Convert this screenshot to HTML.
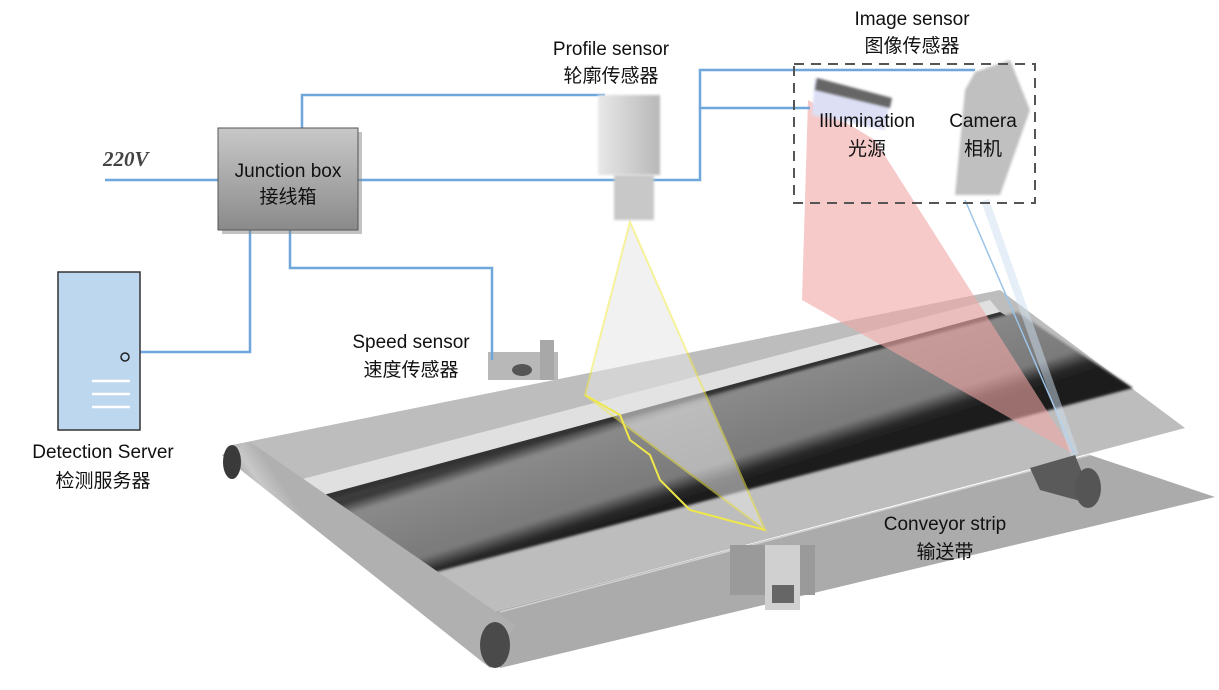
<!DOCTYPE html>
<html><head><meta charset="utf-8"><style>
body{margin:0;background:#fff;}
svg{display:block;}
text{font-family:"Liberation Sans","Noto Sans CJK SC",sans-serif;font-size:19px;fill:#111;}
</style></head><body>
<svg width="1219" height="690" viewBox="0 0 1219 690" xmlns="http://www.w3.org/2000/svg">
<defs>
<linearGradient id="jb" x1="0" y1="0" x2="0" y2="1"><stop offset="0" stop-color="#c8c8c8"/><stop offset="1" stop-color="#8a8a8a"/></linearGradient>
<linearGradient id="sen" x1="0" y1="0" x2="1" y2="0"><stop offset="0" stop-color="#e8e8e8"/><stop offset="1" stop-color="#b8b8b8"/></linearGradient>
<linearGradient id="mat" gradientUnits="userSpaceOnUse" x1="640" y1="410" x2="670" y2="505"><stop offset="0" stop-color="#3a3a3a"/><stop offset="0.12" stop-color="#8a8a8a"/><stop offset="0.75" stop-color="#7a7a7a"/><stop offset="0.9" stop-color="#2a2a2a"/><stop offset="1" stop-color="#1c1c1c"/></linearGradient>
<linearGradient id="bar" gradientUnits="userSpaceOnUse" x1="230" y1="470" x2="260" y2="450"><stop offset="0" stop-color="#a0a0a0"/><stop offset="0.5" stop-color="#c8c8c8"/><stop offset="1" stop-color="#b0b0b0"/></linearGradient>
<filter id="bl"><feGaussianBlur stdDeviation="1.2"/></filter>
</defs>

<polygon points="493,612 1090,455 1215,497 500,668" fill="#ababab"/>
<line x1="500" y1="612" x2="1090" y2="455" stroke="#d0d0d0" stroke-width="1.5"/>
<polygon points="232,445 1000,290 1185,428 493,612" fill="#bdbdbd"/>
<polygon points="287,483 990,300 1000,312 305,500" fill="#e0e0e0"/>
<polygon points="305,500 1000,312 1010,318 310,506" fill="#333"/>
<polygon points="310,504 1017,312 1133,388 417,577" fill="url(#mat)" filter="url(#bl)"/>
<polygon points="222,455 250,442 515,625 490,668" fill="url(#bar)"/>
<ellipse cx="232" cy="462" rx="9" ry="17" fill="#3a3a3a"/>
<ellipse cx="495" cy="645" rx="15" ry="23" fill="#4a4a4a"/>
<polygon points="1030,468 1075,455 1095,505 1040,490" fill="#5a5a5a"/>
<ellipse cx="1088" cy="488" rx="13" ry="20" fill="#555"/>
<rect x="730" y="545" width="85" height="50" fill="#9a9a9a"/>
<rect x="765" y="545" width="35" height="65" fill="#d0d0d0"/>
<rect x="772" y="585" width="22" height="18" fill="#666"/>
<rect x="488" y="352" width="70" height="28" fill="#b8b8b8"/>
<rect x="540" y="340" width="14" height="40" fill="#a8a8a8"/>
<ellipse cx="522" cy="370" rx="10" ry="6" fill="#555"/>

<polygon points="808,100 875,140 1075,455 802,300" fill="#f2a6a6" opacity="0.6"/>
<line x1="965" y1="200" x2="1075" y2="455" stroke="#9cc4e8" stroke-width="1.5"/>
<line x1="985" y1="200" x2="1075" y2="455" stroke="#cfe0f0" stroke-width="8" opacity="0.5"/>

<polygon points="630,222 585,395 765,530" fill="#e6e6e6" opacity="0.55" stroke="#f0e84a" stroke-width="2"/>
<polyline points="585,395 620,415 630,440 650,455 660,480 690,510 765,530" fill="none" stroke="#f0e84a" stroke-width="2"/>

<g stroke="#6fa6dc" stroke-width="2.5" fill="none">
<polyline points="105,180 218,180"/>
<polyline points="302,128 302,95 605,95"/>
<polyline points="358,180 700,180 700,70 975,70"/>
<polyline points="700,108 810,108"/>
<polyline points="250,230 250,352 140,352"/>
<polyline points="290,230 290,268 492,268 492,360"/>
</g>

<rect x="222" y="132" width="140" height="102" fill="#888" opacity="0.5"/>
<rect x="218" y="128" width="140" height="102" fill="url(#jb)" stroke="#555"/>
<text x="288" y="177" text-anchor="middle">Junction box</text>
<text x="288" y="203" text-anchor="middle">接线箱</text>
<text x="103" y="166" style="font-family:'Liberation Serif',serif;font-style:italic;font-weight:bold;font-size:21px;fill:#444">220V</text>

<rect x="58" y="272" width="82" height="158" fill="#bdd7ee" stroke="#333" stroke-width="1.5"/>
<circle cx="125" cy="357" r="4" fill="none" stroke="#222" stroke-width="1.5"/>
<g stroke="#fff" stroke-width="2.5"><line x1="92" y1="381" x2="130" y2="381"/><line x1="92" y1="394" x2="130" y2="394"/><line x1="92" y1="407" x2="130" y2="407"/></g>
<text x="103" y="458" text-anchor="middle">Detection Server</text>
<text x="103" y="487" text-anchor="middle">检测服务器</text>

<rect x="598" y="95" width="62" height="80" fill="url(#sen)" filter="url(#bl)"/>
<rect x="614" y="175" width="40" height="45" fill="#c8c8c8" filter="url(#bl)"/>
<text x="611" y="55" text-anchor="middle">Profile sensor</text>
<text x="611" y="82" text-anchor="middle">轮廓传感器</text>

<polygon points="815,78 890,100 885,130 812,115" fill="#dde0f5" filter="url(#bl)"/>
<polygon points="817,78 892,98 890,108 815,90" fill="#666" filter="url(#bl)"/>
<polygon points="975,72 1010,60 1030,110 1000,195 955,195 965,90" fill="#c0c0c0" filter="url(#bl)"/>
<rect x="794" y="64" width="241" height="139" fill="none" stroke="#555" stroke-width="2" stroke-dasharray="10,7"/>
<text x="912" y="25" text-anchor="middle">Image sensor</text>
<text x="912" y="52" text-anchor="middle">图像传感器</text>
<text x="867" y="127" text-anchor="middle">Illumination</text>
<text x="867" y="155" text-anchor="middle">光源</text>
<text x="983" y="127" text-anchor="middle">Camera</text>
<text x="983" y="155" text-anchor="middle">相机</text>

<text x="411" y="348" text-anchor="middle">Speed sensor</text>
<text x="411" y="376" text-anchor="middle">速度传感器</text>
<text x="945" y="530" text-anchor="middle">Conveyor strip</text>
<text x="945" y="558" text-anchor="middle">输送带</text>
</svg>
</body></html>
